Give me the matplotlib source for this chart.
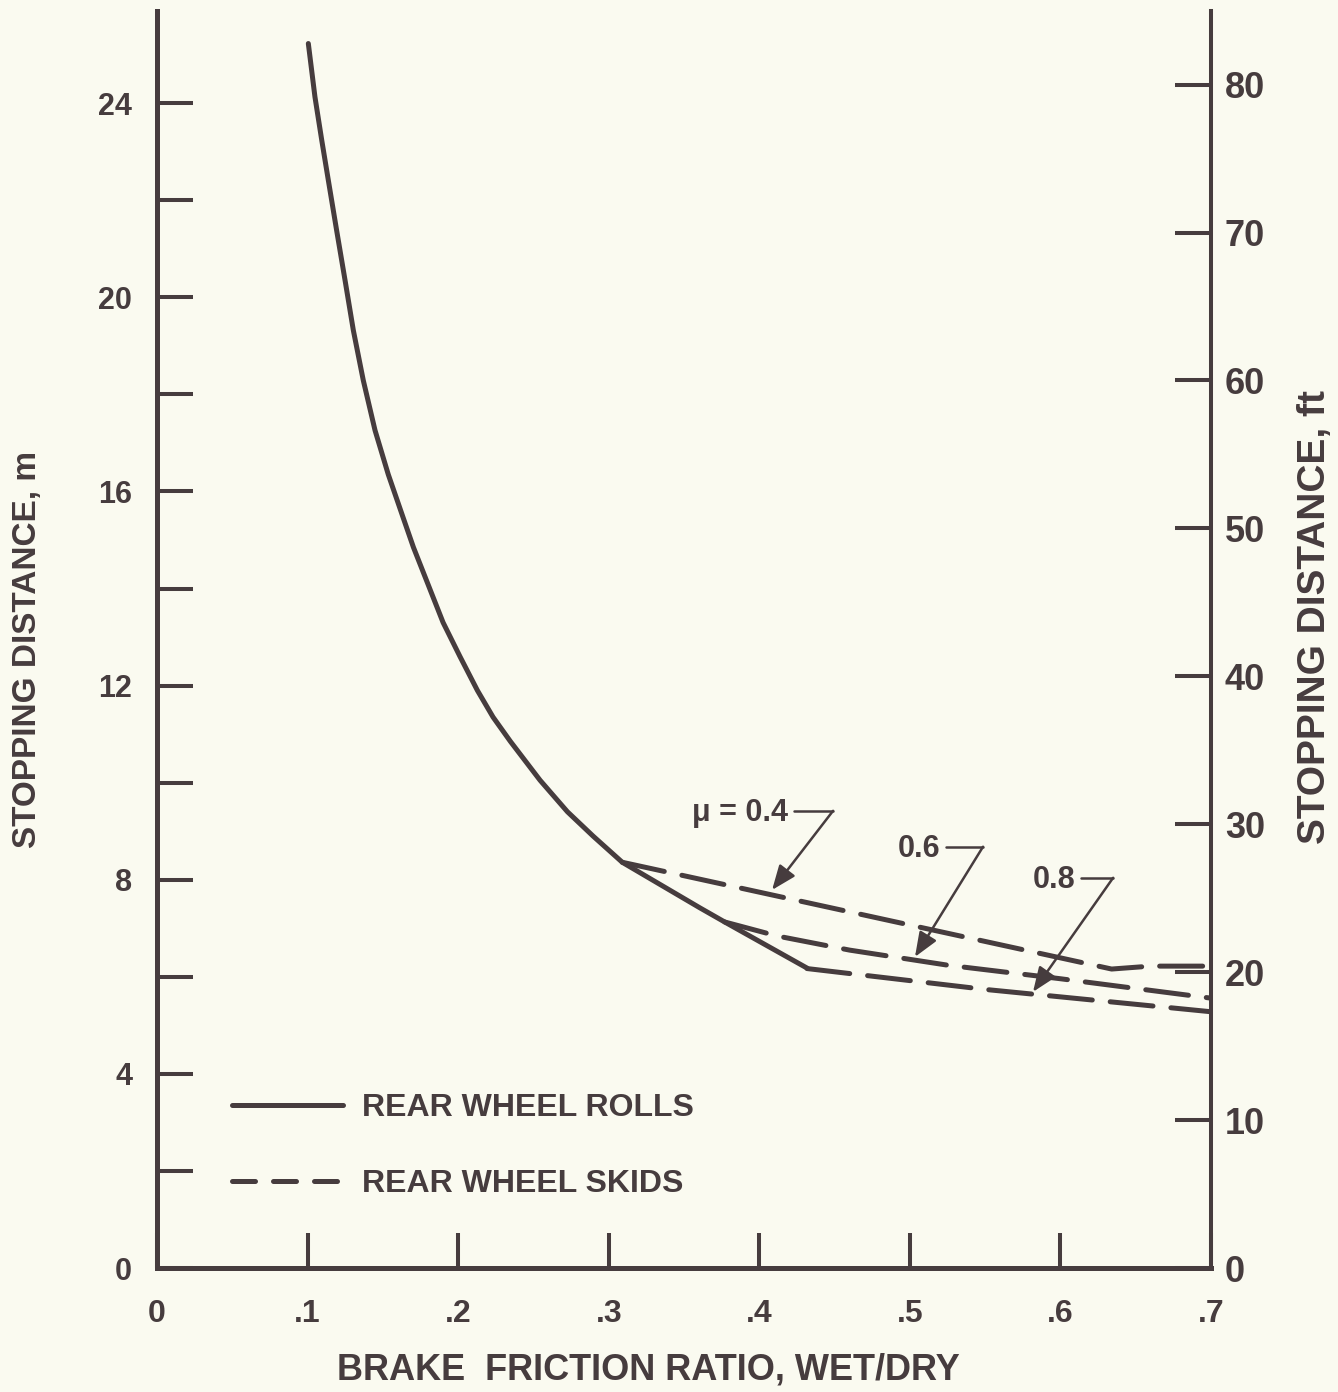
import numpy as np
import matplotlib
matplotlib.use("Agg")
from matplotlib import pyplot as plt
from matplotlib.lines import Line2D

# ---- data ----
# rear wheel rolls (solid)
roll_ratio = [0.1005, 0.1049, 0.1094, 0.1138, 0.1193, 0.1249, 0.1304, 0.1370,
              0.1448, 0.1536, 0.1636, 0.1703, 0.190, 0.2012, 0.2128, 0.2232,
              0.2347, 0.2544, 0.2726, 0.2896, 0.309, 0.3606, 0.377, 0.4317]
roll_dist = [25.23, 24.13, 23.24, 22.41, 21.38, 20.35, 19.32, 18.29,
             17.26, 16.35, 15.45, 14.85, 13.3, 12.6, 11.9, 11.35,
             10.85, 10.05, 9.40, 8.90, 8.36, 7.42, 7.13, 6.18]

# rear wheel skids (dashed), one per mu
skid_mu04_ratio = [0.309, 0.634, 0.66, 0.70]
skid_mu04_dist = [8.36, 6.16, 6.22, 6.22]
skid_mu06_ratio = [0.377, 0.412, 0.46, 0.525, 0.60, 0.70]
skid_mu06_dist = [7.13, 6.84, 6.55, 6.24, 5.96, 5.56]
skid_mu08_ratio = [0.4317, 0.55, 0.70]
skid_mu08_dist = [6.17, 5.74, 5.28]

x_ticks = [0, 0.1, 0.2, 0.3, 0.4, 0.5, 0.6, 0.7]
x_ticklabels = ["0", ".1", ".2", ".3", ".4", ".5", ".6", ".7"]
m_ticks = list(range(0, 26, 2))
m_ticklabels = [str(t) if t % 4 == 0 else "" for t in m_ticks]
ft_ticks = list(range(0, 90, 10))

# (label, text x/y, hook end x, tip x/y) in data units
mu_notes = [
    ("\u03bc = 0.4", 0.419, 9.37, 0.449, 0.4085, 7.79),
    ("0.6", 0.520, 8.63, 0.5486, 0.5034, 6.41),
    ("0.8", 0.6097, 7.99, 0.635, 0.5818, 5.69),
]

ink = "#463c3e"
paper = "#fafaf0"
M_TO_FT = 1 / 0.3048
YTOP = 25.9

plt.rcParams["font.family"] = ["Liberation Sans", "DejaVu Sans"]
plt.rcParams["font.weight"] = "bold"

fig = plt.figure(figsize=(13.38, 13.92), dpi=100, facecolor=paper)
ax = fig.add_axes([157 / 1338, 124 / 1392, 1054 / 1338, 1257 / 1392])
ax.set_facecolor(paper)

lw = 3.6
ax.plot(roll_ratio, roll_dist, color=ink, lw=lw, solid_capstyle="round",
        solid_joinstyle="round")
for xs, ys in [(skid_mu04_ratio, skid_mu04_dist),
               (skid_mu06_ratio, skid_mu06_dist),
               (skid_mu08_ratio, skid_mu08_dist)]:
    ax.plot(xs, ys, color=ink, lw=lw, dashes=(8.6, 3.6), dash_capstyle="round")

# mu labels with hooked leader arrows
for label, tx, ty, hx, px, py in mu_notes:
    ax.text(tx, ty, label, ha="right", va="center", fontsize=22, color=ink,
            fontweight="bold")
    ax.plot([tx + 0.004, hx], [ty + 0.05, ty + 0.05], color=ink, lw=1.8,
            solid_capstyle="round")
    ax.annotate("", xy=(px, py), xytext=(hx, ty + 0.05),
                arrowprops=dict(arrowstyle="-|>,head_length=0.75,head_width=0.3",
                                color=ink, lw=1.8, shrinkA=0, shrinkB=0,
                                mutation_scale=20))

ax.set_xlim(0, 0.7)
ax.set_ylim(0, YTOP)
ax.set_xticks(x_ticks)
ax.set_xticklabels(x_ticklabels)
ax.set_yticks(m_ticks)
ax.set_yticklabels(m_ticklabels)
ax.tick_params(axis="x", direction="in", length=25, width=2.9, color=ink,
               labelsize=23, labelcolor=ink, pad=22)
ax.tick_params(axis="y", direction="in", length=26, width=2.9, color=ink,
               labelsize=22, labelcolor=ink, pad=18)

for side in ["top", "right"]:
    ax.spines[side].set_visible(False)
for side in ["left", "bottom"]:
    ax.spines[side].set_linewidth(3.6)
    ax.spines[side].set_color(ink)

ax.set_xlabel("BRAKE  FRICTION RATIO, WET/DRY", fontsize=26, color=ink,
              fontweight="bold", va="center")
ax.xaxis.set_label_coords(0.466, -0.081)
ax.set_ylabel("STOPPING DISTANCE, m", fontsize=24, color=ink,
              fontweight="bold", va="center")
ax.yaxis.set_label_coords(-0.123, 0.492)

# right axis in feet
ax2 = ax.twinx()
ax2.set_ylim(0, YTOP * M_TO_FT)
ax2.set_yticks(ft_ticks)
ax2.tick_params(axis="y", direction="in", length=26, width=2.9, color=ink,
                labelsize=26, labelcolor=ink, pad=10)
for side in ["top", "left", "bottom"]:
    ax2.spines[side].set_visible(False)
ax2.spines["right"].set_linewidth(2.9)
ax2.spines["right"].set_color(ink)
ax2.set_ylabel("STOPPING DISTANCE, ft", fontsize=28, color=ink,
               fontweight="bold", va="center")
ax2.yaxis.set_label_coords(1.099, 0.518)

handles = [Line2D([], [], color=ink, lw=lw, solid_capstyle="round"),
           Line2D([], [], color=ink, lw=lw, dashes=(4.6, 3.6), dash_capstyle="round")]
ax.legend(handles, ["REAR WHEEL ROLLS", "REAR WHEEL SKIDS"], loc="center left",
          bbox_to_anchor=(0.0712, 0.097), frameon=False, fontsize=23,
          handlelength=3.47, handletextpad=0.6, labelspacing=1.45,
          borderpad=0, borderaxespad=0, labelcolor=ink)

fig.savefig("out.png", dpi=100, facecolor=paper)
